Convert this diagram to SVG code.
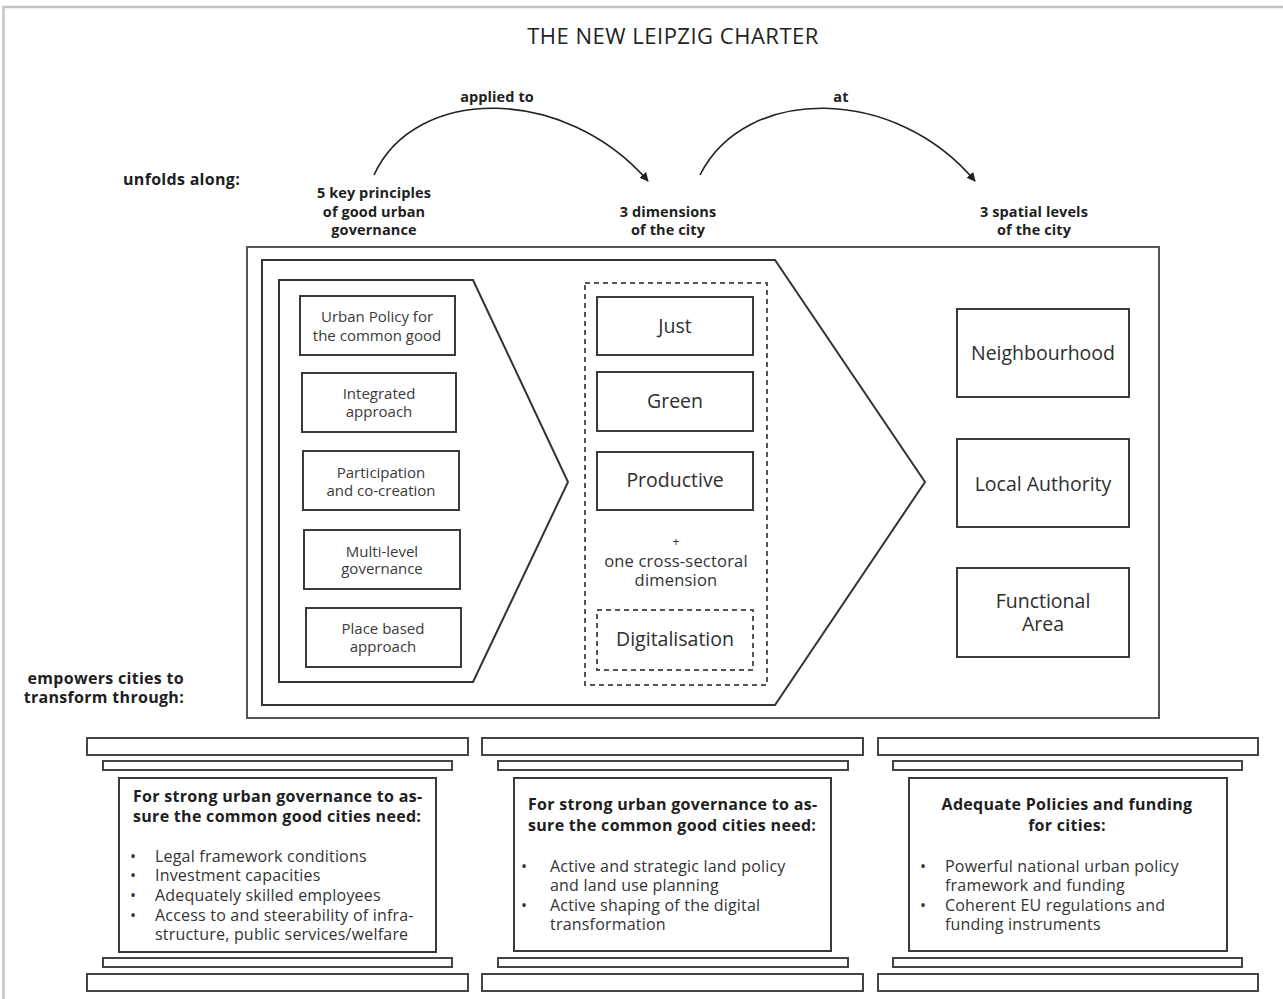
<svg xmlns="http://www.w3.org/2000/svg" width="1283" height="999" viewBox="0 0 1283 999">
<defs>
<marker id="ah" viewBox="0 0 10 10" refX="9" refY="5" markerWidth="9" markerHeight="9" markerUnits="userSpaceOnUse" orient="auto">
<path d="M0,0 L10,5 L0,10 z" fill="#222"/>
</marker>
<style>
text{font-family:"Open Sans","Liberation Sans",sans-serif;fill:#2a2a2a}
.t{font-size:22px;letter-spacing:0.5px;text-anchor:middle;fill:#222}
.b{font-size:16px;letter-spacing:0.3px;font-weight:bold;fill:#1e1e1e}
.h{font-size:14.5px;letter-spacing:0.1px;font-weight:bold;fill:#1e1e1e;text-anchor:middle}
.c{text-anchor:middle}
.s{font-size:15px;fill:#3a3a3a;text-anchor:middle}
.m{font-size:19.5px;fill:#2e2e2e;text-anchor:middle}
.n{font-size:16px;letter-spacing:0.2px;fill:#333}
.box{fill:#fff;stroke:#3a3a3a;stroke-width:2}
.slab{fill:#fff;stroke:#444;stroke-width:2}
.dash{fill:none;stroke:#555;stroke-width:2;stroke-dasharray:5,4}
.ln{fill:none;stroke:#222;stroke-width:1.6}
</style>
</defs>
<rect width="1283" height="999" fill="#fff"/>
<path d="M3.5,999 V7 H1283" fill="none" stroke="#c4c4c4" stroke-width="2.5"/>

<text class="t" x="673" y="44">THE NEW LEIPZIG CHARTER</text>

<g id="connectors">
<path class="ln" d="M374,175 C415,85 565,85 648,181" marker-end="url(#ah)"/>
<path class="ln" d="M700,175 C745,85 895,85 975,181" marker-end="url(#ah)"/>
<text class="h" x="497" y="102">applied to</text>
<text class="h" x="841" y="102">at</text>
</g>

<g id="labels">
<text class="b" x="123" y="185">unfolds along:</text>
<text class="h" x="374" y="198">5 key principles</text>
<text class="h" x="374" y="216.5">of good urban</text>
<text class="h" x="374" y="235">governance</text>
<text class="h" x="668" y="216.5">3 dimensions</text>
<text class="h" x="668" y="235">of the city</text>
<text class="h" x="1034" y="216.5">3 spatial levels</text>
<text class="h" x="1034" y="235">of the city</text>
<text class="b" x="184" y="684" text-anchor="end">empowers cities to</text>
<text class="b" x="184" y="703" text-anchor="end">transform through:</text>
</g>

<g id="frame">
<rect x="247" y="247" width="912" height="471" fill="#fff" stroke="#555" stroke-width="2"/>
<path d="M262,260 H775 L925,482 L775,705 H262 Z" fill="#fff" stroke="#333" stroke-width="2"/>
<path d="M279,280 H473 L568,482 L473,682 H279 Z" fill="#fff" stroke="#333" stroke-width="2"/>
</g>

<g id="principles">
<g id="p1"><rect class="box" x="300" y="296" width="155" height="59"/><text class="s" x="377" y="322">Urban Policy for</text><text class="s" x="377" y="341">the common good</text></g>
<g id="p2"><rect class="box" x="302" y="373" width="154" height="59"/><text class="s" x="379" y="399">Integrated</text><text class="s" x="379" y="417">approach</text></g>
<g id="p3"><rect class="box" x="303" y="451" width="156" height="59"/><text class="s" x="381" y="478">Participation</text><text class="s" x="381" y="496">and co-creation</text></g>
<g id="p4"><rect class="box" x="304" y="530" width="156" height="59"/><text class="s" x="382" y="557">Multi-level</text><text class="s" x="382" y="574">governance</text></g>
<g id="p5"><rect class="box" x="306" y="608" width="155" height="59"/><text class="s" x="383" y="634">Place based</text><text class="s" x="383" y="652">approach</text></g>
</g>

<g id="dimensions">
<rect class="dash" x="585" y="283" width="182" height="402"/>
<g id="d1"><rect class="box" x="597" y="297" width="156" height="58"/><text class="m" x="675" y="333">Just</text></g>
<g id="d2"><rect class="box" x="597" y="372" width="156" height="59"/><text class="m" x="675" y="408">Green</text></g>
<g id="d3"><rect class="box" x="597" y="452" width="156" height="58"/><text class="m" x="675" y="487">Productive</text></g>
<text class="n c" x="676" y="546" style="font-size:12px">+</text>
<text class="n c" x="676" y="567" style="font-size:16.5px">one cross-sectoral</text>
<text class="n c" x="676" y="586" style="font-size:16.5px">dimension</text>
<g id="d4"><rect class="dash" x="597" y="610" width="156" height="60"/><text class="m" x="675" y="646">Digitalisation</text></g>
</g>

<g id="levels">
<g id="l1"><rect class="box" x="957" y="309" width="172" height="88"/><text class="m" x="1043" y="360">Neighbourhood</text></g>
<g id="l2"><rect class="box" x="957" y="439" width="172" height="88"/><text class="m" x="1043" y="491">Local Authority</text></g>
<g id="l3"><rect class="box" x="957" y="568" width="172" height="89"/><text class="m" x="1043" y="608">Functional</text><text class="m" x="1043" y="631">Area</text></g>
</g>

<g id="pillar1">
<rect class="slab" x="87" y="738" width="381" height="17"/>
<rect class="slab" x="103" y="761" width="349" height="9"/>
<rect class="box" x="119" y="778" width="317" height="174"/>
<rect class="slab" x="103" y="958" width="349" height="9"/>
<rect class="slab" x="87" y="974" width="381" height="17"/>
<text class="b" x="133" y="802">For strong urban governance to as-</text>
<text class="b" x="133" y="822">sure the common good cities need:</text>
<text class="n" x="130" y="862">•</text><text class="n" x="155" y="862">Legal framework conditions</text>
<text class="n" x="130" y="881">•</text><text class="n" x="155" y="881">Investment capacities</text>
<text class="n" x="130" y="901">•</text><text class="n" x="155" y="901">Adequately skilled employees</text>
<text class="n" x="130" y="921">•</text><text class="n" x="155" y="921">Access to and steerability of infra-</text>
<text class="n" x="155" y="940">structure, public services/welfare</text>
</g>

<g id="pillar2">
<rect class="slab" x="482" y="738" width="381" height="17"/>
<rect class="slab" x="498" y="761" width="350" height="9"/>
<rect class="box" x="514" y="778" width="317" height="173"/>
<rect class="slab" x="498" y="958" width="350" height="9"/>
<rect class="slab" x="482" y="974" width="381" height="17"/>
<text class="b" x="528" y="810">For strong urban governance to as-</text>
<text class="b" x="528" y="831">sure the common good cities need:</text>
<text class="n" x="521" y="872">•</text><text class="n" x="550" y="872">Active and strategic land policy</text>
<text class="n" x="550" y="891">and land use planning</text>
<text class="n" x="521" y="911">•</text><text class="n" x="550" y="911">Active shaping of the digital</text>
<text class="n" x="550" y="930">transformation</text>
</g>

<g id="pillar3">
<rect class="slab" x="878" y="738" width="380" height="17"/>
<rect class="slab" x="893" y="761" width="349" height="9"/>
<rect class="box" x="909" y="778" width="318" height="173"/>
<rect class="slab" x="893" y="958" width="349" height="9"/>
<rect class="slab" x="878" y="974" width="380" height="17"/>
<text class="b c" x="1067" y="810">Adequate Policies and funding</text>
<text class="b c" x="1067" y="831">for cities:</text>
<text class="n" x="920" y="872">•</text><text class="n" x="945" y="872">Powerful national urban policy</text>
<text class="n" x="945" y="891">framework and funding</text>
<text class="n" x="920" y="911">•</text><text class="n" x="945" y="911">Coherent EU regulations and</text>
<text class="n" x="945" y="930">funding instruments</text>
</g>
</svg>
